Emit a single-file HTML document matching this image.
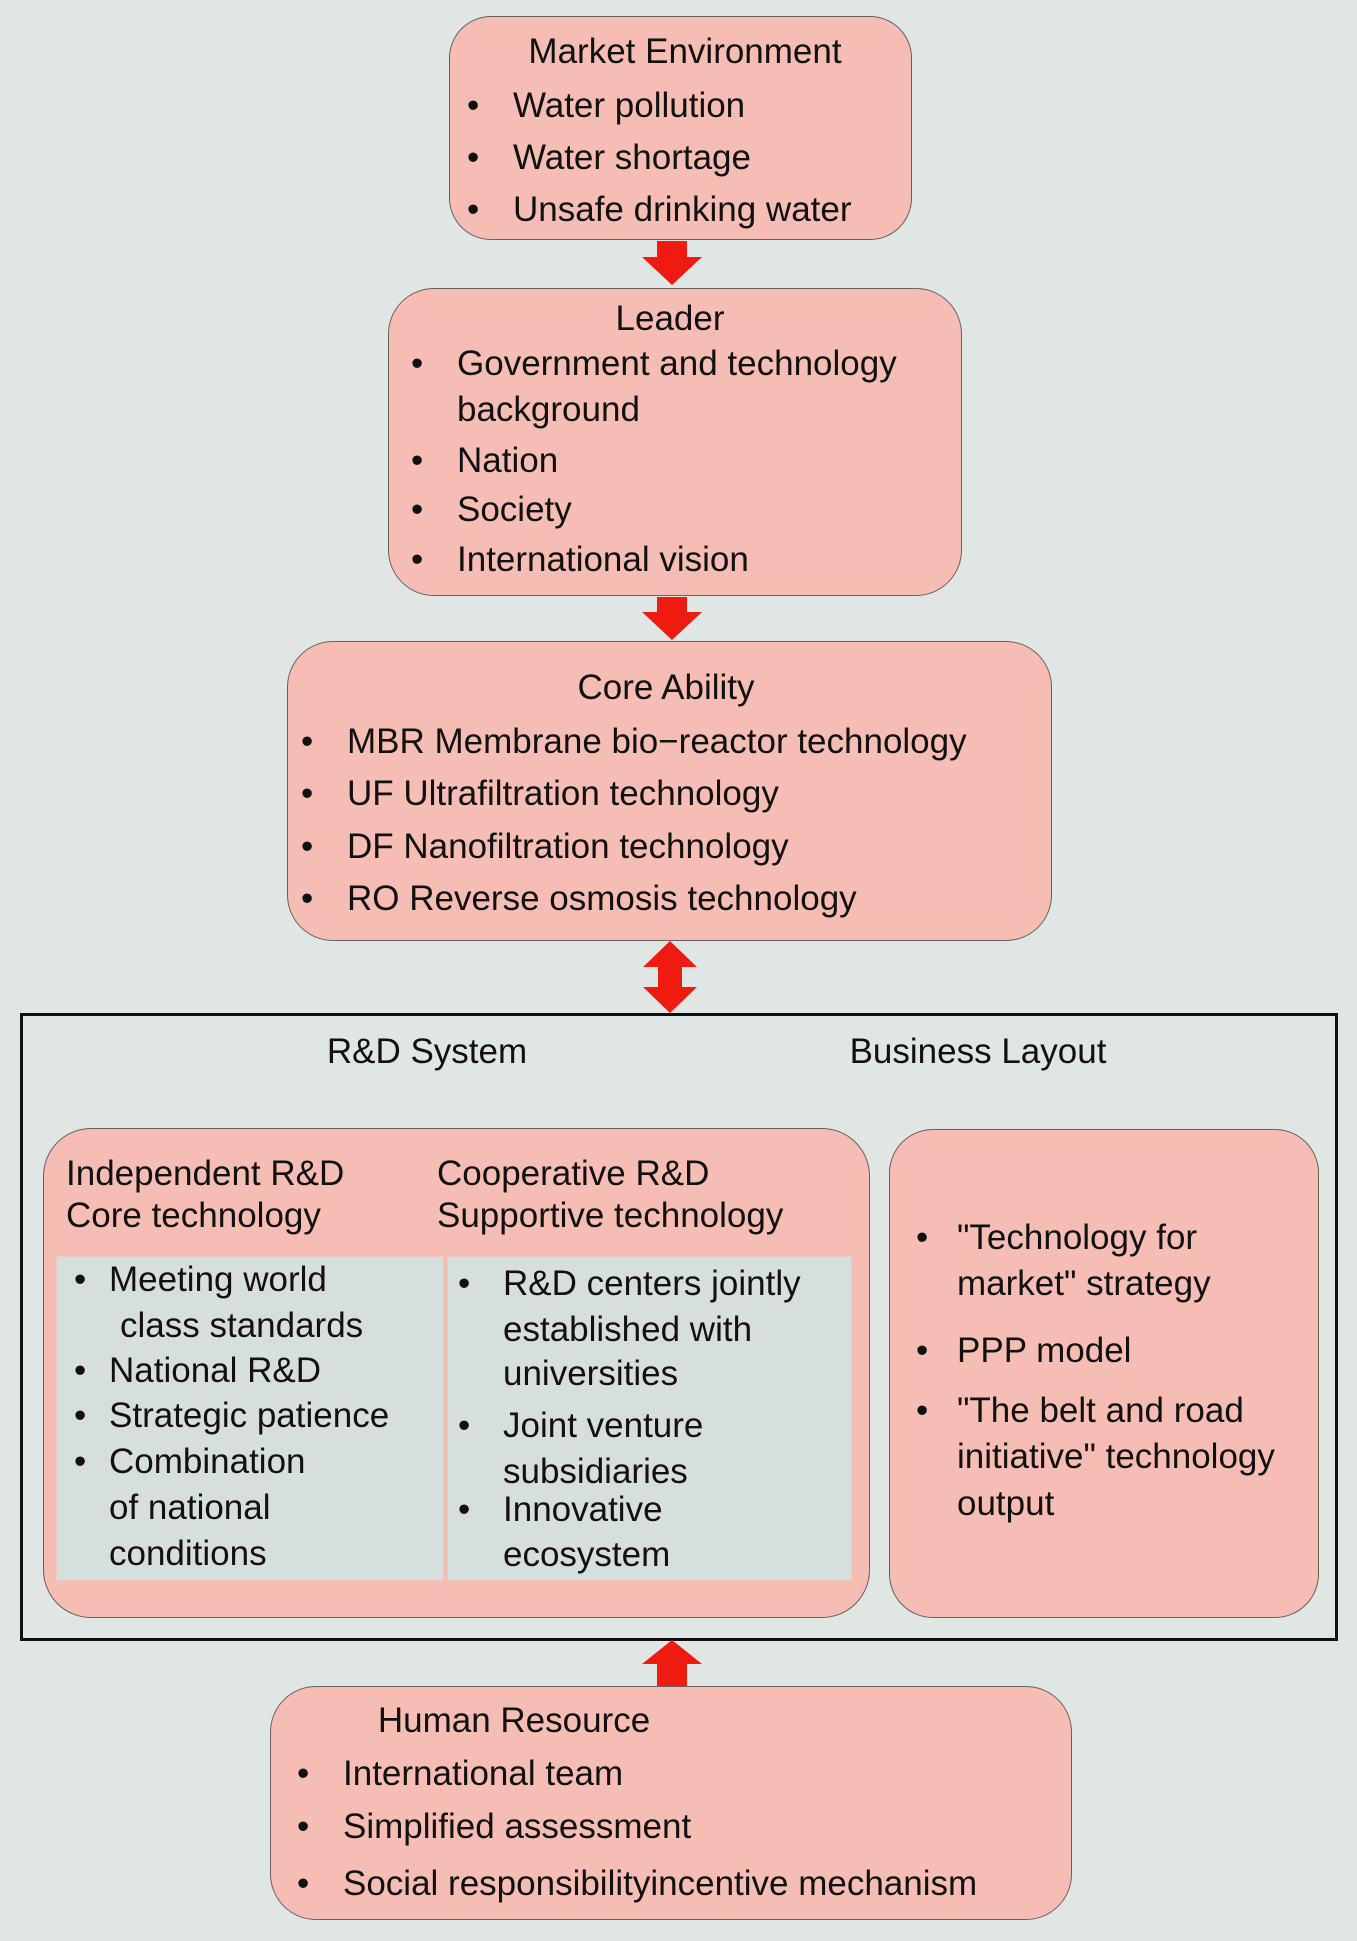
<!DOCTYPE html>
<html><head><meta charset="utf-8"><style>
body{margin:0;width:1357px;height:1941px;background:#dfe6e3;position:relative;overflow:hidden;font-family:"Liberation Sans",sans-serif;color:#111}
.b{position:absolute;background:#f5bdb3;border:1.5px solid #6a5f5c;box-sizing:border-box}
.g{position:absolute;background:#d7dfdc;border:1.5px solid #eec9c0;box-sizing:border-box}
.t{position:absolute;font-size:35px;line-height:44px;white-space:nowrap}
.c{transform:translateX(-50%)}
</style></head><body>
<div class="b" style="left:449px;top:16px;width:463px;height:224px;border-radius:42px"></div>
<div class="b" style="left:388px;top:288px;width:574px;height:308px;border-radius:46px"></div>
<div class="b" style="left:287px;top:641px;width:765px;height:300px;border-radius:46px"></div>
<div style="position:absolute;left:20px;top:1013px;width:1318px;height:628px;border:3px solid #111;box-sizing:border-box"></div>
<div class="b" style="left:43px;top:1128px;width:827px;height:490px;border-radius:48px"></div>
<div class="b" style="left:889px;top:1129px;width:430px;height:489px;border-radius:44px"></div>
<div class="g" style="left:56px;top:1256px;width:388px;height:325px"></div>
<div class="g" style="left:447px;top:1256px;width:405px;height:325px"></div>
<div class="b" style="left:270px;top:1686px;width:802px;height:234px;border-radius:46px"></div>

<svg width="1357" height="1941" style="position:absolute;left:0;top:0">
<g fill="#f01b10">
<polygon points="657,241 687,241 687,257 702,257 672,285 642,257 657,257"/>
<polygon points="657,597 687,597 687,612 702,612 672,640 642,612 657,612"/>
<polygon points="670,941 697,967 682,967 682,987 697,987 670,1013 643,987 658,987 658,967 643,967"/>
<polygon points="672,1640 702,1664 687,1664 687,1686 657,1686 657,1664 642,1664"/>
</g></svg>

<div class="t c" style="left:685px;top:30px">Market Environment</div>
<div class="t" style="left:467px;top:84px">•</div><div class="t" style="left:513px;top:84px">Water pollution</div>
<div class="t" style="left:467px;top:136px">•</div><div class="t" style="left:513px;top:136px">Water shortage</div>
<div class="t" style="left:467px;top:188px">•</div><div class="t" style="left:513px;top:188px">Unsafe drinking water</div>

<div class="t c" style="left:670px;top:297px">Leader</div>
<div class="t" style="left:411px;top:342px">•</div><div class="t" style="left:457px;top:342px">Government and technology</div>
<div class="t" style="left:457px;top:388px">background</div>
<div class="t" style="left:411px;top:439px">•</div><div class="t" style="left:457px;top:439px">Nation</div>
<div class="t" style="left:411px;top:488px">•</div><div class="t" style="left:457px;top:488px">Society</div>
<div class="t" style="left:411px;top:538px">•</div><div class="t" style="left:457px;top:538px">International vision</div>

<div class="t c" style="left:666px;top:666px">Core Ability</div>
<div class="t" style="left:301px;top:720px">•</div><div class="t" style="left:347px;top:720px">MBR Membrane bio−reactor technology</div>
<div class="t" style="left:301px;top:772px">•</div><div class="t" style="left:347px;top:772px">UF Ultrafiltration technology</div>
<div class="t" style="left:301px;top:825px">•</div><div class="t" style="left:347px;top:825px">DF Nanofiltration technology</div>
<div class="t" style="left:301px;top:877px">•</div><div class="t" style="left:347px;top:877px">RO Reverse osmosis technology</div>

<div class="t c" style="left:427px;top:1030px">R&amp;D System</div>
<div class="t c" style="left:978px;top:1030px">Business Layout</div>

<div class="t" style="left:66px;top:1152px">Independent R&amp;D</div>
<div class="t" style="left:66px;top:1194px">Core technology</div>
<div class="t" style="left:437px;top:1152px">Cooperative R&amp;D</div>
<div class="t" style="left:437px;top:1194px">Supportive technology</div>

<div class="t" style="left:74px;top:1258px">•</div><div class="t" style="left:109px;top:1258px">Meeting world</div>
<div class="t" style="left:120px;top:1304px">class standards</div>
<div class="t" style="left:74px;top:1349px">•</div><div class="t" style="left:109px;top:1349px">National R&amp;D</div>
<div class="t" style="left:74px;top:1394px">•</div><div class="t" style="left:109px;top:1394px">Strategic patience</div>
<div class="t" style="left:74px;top:1440px">•</div><div class="t" style="left:109px;top:1440px">Combination</div>
<div class="t" style="left:109px;top:1486px">of national</div>
<div class="t" style="left:109px;top:1532px">conditions</div>

<div class="t" style="left:458px;top:1262px">•</div><div class="t" style="left:503px;top:1262px">R&amp;D centers jointly</div>
<div class="t" style="left:503px;top:1308px">established with</div>
<div class="t" style="left:503px;top:1352px">universities</div>
<div class="t" style="left:458px;top:1404px">•</div><div class="t" style="left:503px;top:1404px">Joint venture</div>
<div class="t" style="left:503px;top:1450px">subsidiaries</div>
<div class="t" style="left:458px;top:1488px">•</div><div class="t" style="left:503px;top:1488px">Innovative</div>
<div class="t" style="left:503px;top:1533px">ecosystem</div>

<div class="t" style="left:916px;top:1216px">•</div><div class="t" style="left:957px;top:1216px">"Technology for</div>
<div class="t" style="left:957px;top:1262px">market" strategy</div>
<div class="t" style="left:916px;top:1329px">•</div><div class="t" style="left:957px;top:1329px">PPP model</div>
<div class="t" style="left:916px;top:1389px">•</div><div class="t" style="left:957px;top:1389px">"The belt and road</div>
<div class="t" style="left:957px;top:1435px">initiative" technology</div>
<div class="t" style="left:957px;top:1482px">output</div>

<div class="t c" style="left:514px;top:1699px">Human Resource</div>
<div class="t" style="left:297px;top:1752px">•</div><div class="t" style="left:343px;top:1752px">International team</div>
<div class="t" style="left:297px;top:1805px">•</div><div class="t" style="left:343px;top:1805px">Simplified assessment</div>
<div class="t" style="left:297px;top:1862px">•</div><div class="t" style="left:343px;top:1862px">Social responsibilityincentive mechanism</div>
</body></html>
